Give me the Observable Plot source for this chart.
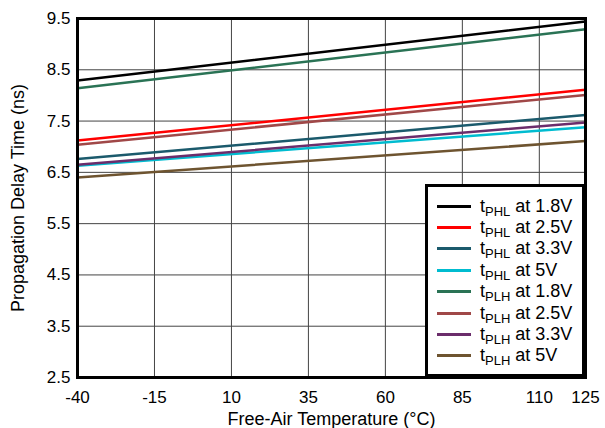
<!DOCTYPE html>
<html><head><meta charset="utf-8">
<script src="https://cdn.jsdelivr.net/npm/d3@7"></script>
<script src="https://cdn.jsdelivr.net/npm/@observablehq/plot@0.6"></script>
<style>
body{margin:0;background:#fff;font-family:"Liberation Sans",Arial,sans-serif;}
#wrap{position:relative;width:605px;height:428px;}
#legend{position:absolute;left:425px;top:184px;width:154px;height:187px;border:3px solid #000;background:#fff;box-sizing:content-box;}
.row{position:absolute;left:9px;height:20px;display:flex;align-items:center;font-size:18px;color:#000;}
.sw{width:34px;height:3px;margin-right:9px;}
sub{font-size:13px;vertical-align:-4px;line-height:0;}
</style>
</head><body><div id="wrap"><div id="legend"></div></div>
<script>
const temps = [-40, 125];
const seriesNames = ["tPHL at 1.8V","tPHL at 2.5V","tPHL at 3.3V","tPHL at 5V","tPLH at 1.8V","tPLH at 2.5V","tPLH at 3.3V","tPLH at 5V"];
const phl18 = [8.29, 9.44];
const phl25 = [7.12, 8.11];
const phl33 = [6.76, 7.62];
const phl5  = [6.63, 7.38];
const plh18 = [8.14, 9.29];
const plh25 = [7.04, 8.01];
const plh33 = [6.65, 7.47];
const plh5  = [6.40, 7.11];
const seriesValues = [phl18, phl25, phl33, phl5, plh18, plh25, plh33, plh5];
const colors = ["#000000","#ff0000","#1b5a6c","#00bcd0","#2a7355","#a04848","#6b2d6b","#6e5430"];
const xTicks = [-40, -15, 10, 35, 60, 85, 110, 125];
const yTicks = [2.5, 3.5, 4.5, 5.5, 6.5, 7.5, 8.5, 9.5];

const data = [];
seriesNames.forEach((s, i) => temps.forEach((t, j) => data.push({series: s, temp: t, delay: seriesValues[i][j]})));

const font = '"Liberation Sans", Arial, sans-serif';
const chart = Plot.plot({
  width: 605, height: 428,
  marginLeft: 77, marginRight: 20, marginTop: 18, marginBottom: 51,
  style: {fontFamily: font, fontSize: "17px", color: "#000", background: "#fff"},
  x: {domain: [-40, 125]},
  y: {domain: [2.5, 9.5]},
  color: {domain: seriesNames, range: colors},
  marks: [
    Plot.ruleX(xTicks, {stroke: "#444", strokeWidth: 1}),
    Plot.ruleY(yTicks, {stroke: "#444", strokeWidth: 1}),
    Plot.line(data, {x: "temp", y: "delay", z: "series", stroke: "series", strokeWidth: 2.5}),
    Plot.frame({stroke: "#000", strokeWidth: 3}),
    Plot.axisX({ticks: xTicks, tickSize: 0, tickPadding: 13, tickFormat: d => String(d), fontSize: 17,
      label: "Free-Air Temperature (°C)", labelArrow: "none", labelAnchor: "center", labelOffset: 47}),
    Plot.axisY({ticks: yTicks, tickSize: 0, tickPadding: 7, tickFormat: d3.format(".1f"), fontSize: 17,
      label: "Propagation Delay Time (ns)", labelArrow: "none", labelAnchor: "center", labelOffset: 66})
  ]
});
chart.querySelectorAll("g[aria-label='x-axis label'] text, g[aria-label='y-axis label'] text").forEach(t => t.setAttribute("font-size", "18"));
document.getElementById("wrap").prepend(chart);

const leg = d3.select("#legend");
seriesNames.forEach((s, i) => {
  const m = s.match(/^t(P..) (.*)$/);
  const row = leg.append("div").attr("class", "row").style("top", (9 + i * 21.4) + "px");
  row.append("div").attr("class", "sw").style("background", colors[i]);
  row.append("span").html("t<sub>" + m[1] + "</sub> " + m[2]);
});
</script></body></html>
